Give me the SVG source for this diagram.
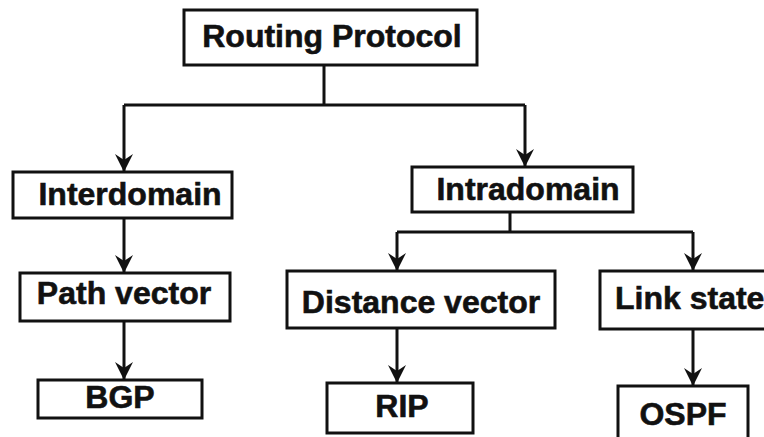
<svg xmlns="http://www.w3.org/2000/svg" width="764" height="437" viewBox="0 0 764 437">
<style>
.box{fill:#fff;stroke:#111;stroke-width:3}
.t{font-family:"Liberation Sans",Arial,sans-serif;font-weight:bold;font-size:32px;fill:#111;stroke:#111;stroke-width:0.6;text-anchor:middle}
.c{fill:none;stroke:#111;stroke-width:3}
</style>
<defs>
<marker id="ah" viewBox="0 0 18 18" refX="18" refY="9" markerWidth="18" markerHeight="18" markerUnits="userSpaceOnUse" orient="auto">
<path d="M0,0 L18,9 L0,18 L6,9 z" fill="#111"/>
</marker>
</defs>
<rect width="764" height="437" fill="#fff"/>
<g id="connectors">
<path class="c" d="M324,65 V105"/>
<path class="c" d="M124,105 H525"/>
<path class="c" d="M124,105 V172" marker-end="url(#ah)"/>
<path class="c" d="M525,105 V167" marker-end="url(#ah)"/>
<path class="c" d="M124,218 V273" marker-end="url(#ah)"/>
<path class="c" d="M124,321 V380" marker-end="url(#ah)"/>
<path class="c" d="M510,212 V232"/>
<path class="c" d="M397,232 H693"/>
<path class="c" d="M397,232 V271" marker-end="url(#ah)"/>
<path class="c" d="M693,232 V271" marker-end="url(#ah)"/>
<path class="c" d="M397,328 V383" marker-end="url(#ah)"/>
<path class="c" d="M693,329 V386" marker-end="url(#ah)"/>
</g>
<g id="routing"><rect class="box" x="184" y="10" width="293" height="55"/><text class="t" x="332" y="47">Routing Protocol</text></g>
<g id="interdomain"><rect class="box" x="13" y="172" width="219" height="46"/><text class="t" x="130" y="205">Interdomain</text></g>
<g id="pathvector"><rect class="box" x="20" y="273" width="210" height="48"/><text class="t" x="124" y="304">Path vector</text></g>
<g id="bgp"><rect class="box" x="38" y="380" width="164" height="38"/><text class="t" x="120" y="408">BGP</text></g>
<g id="intradomain"><rect class="box" x="412" y="167" width="221" height="45"/><text class="t" x="528" y="200">Intradomain</text></g>
<g id="distancevector"><rect class="box" x="287" y="271" width="268" height="57"/><text class="t" x="421" y="313">Distance vector</text></g>
<g id="rip"><rect class="box" x="327" y="383" width="146" height="50"/><text class="t" x="402" y="417">RIP</text></g>
<g id="linkstate"><rect class="box" x="600" y="271" width="200" height="58"/><text class="t" x="615" y="309" style="text-anchor:start">Link state</text></g>
<g id="ospf"><rect class="box" x="618" y="386" width="130" height="60"/><text class="t" x="683" y="425">OSPF</text></g>
</svg>
